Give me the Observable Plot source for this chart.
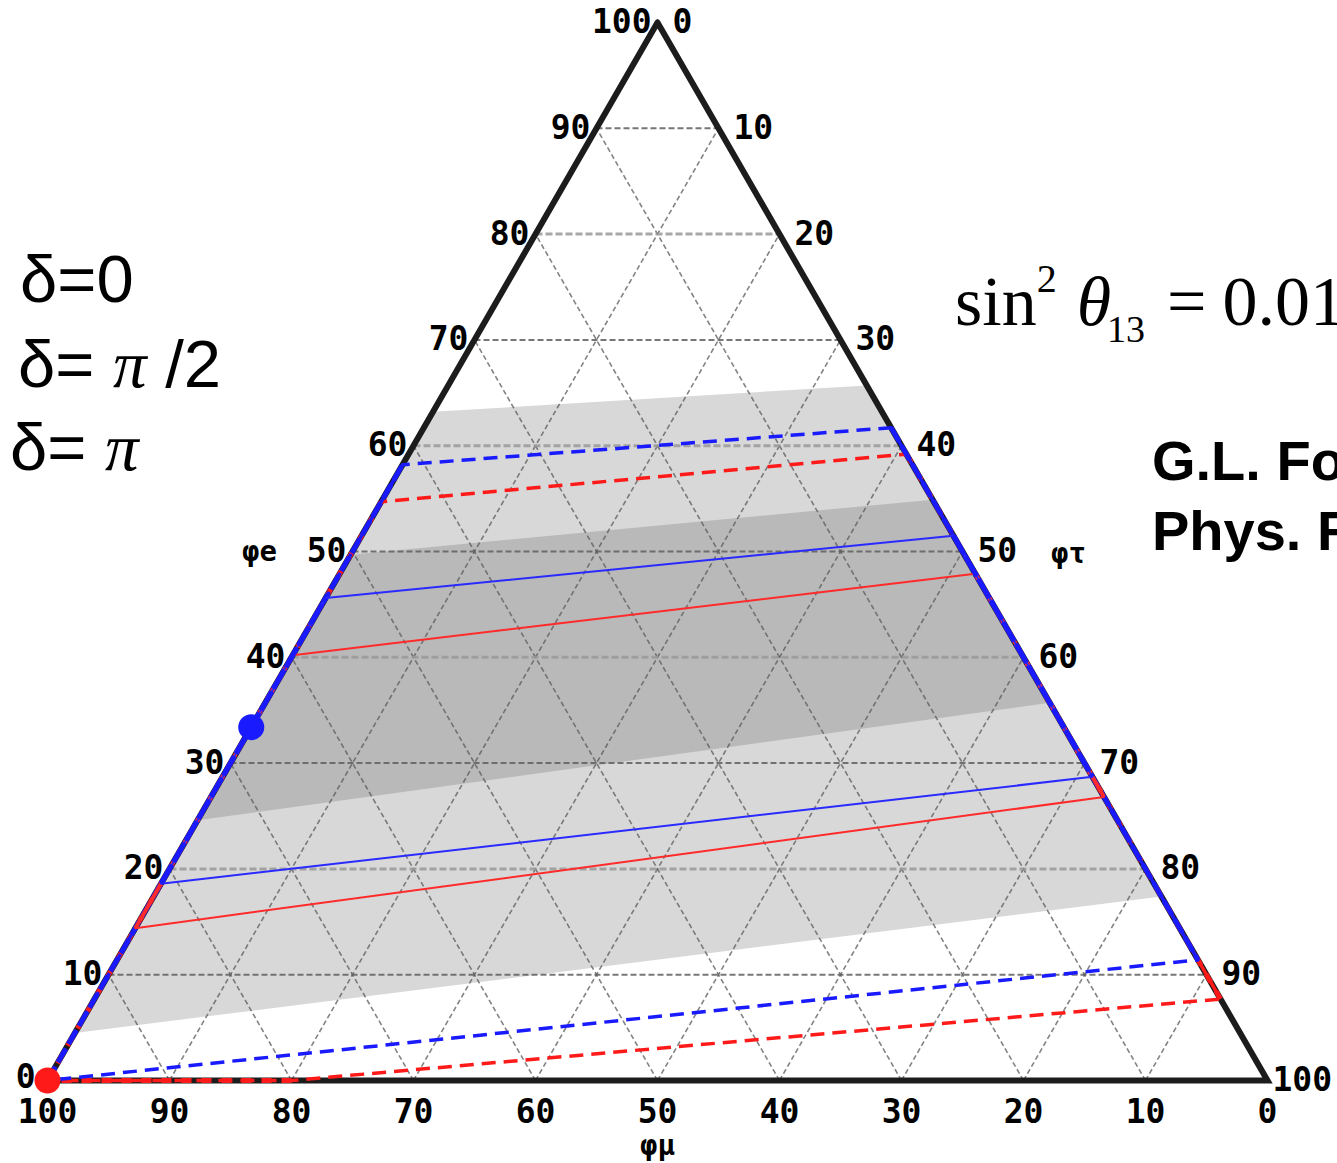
<!DOCTYPE html>
<html>
<head>
<meta charset="utf-8">
<script src="https://cdn.jsdelivr.net/npm/d3@7"></script>
<script src="https://cdn.jsdelivr.net/npm/@observablehq/plot@0.6"></script>
<style>
  html, body { margin: 0; padding: 0; background: #fff; overflow: hidden; }
  #wrap { position: relative; width: 1337px; height: 1163px; overflow: hidden; }
  #chart svg { display: block; }
  #notes { position: absolute; left: 0; top: 0; pointer-events: none; }
</style>
</head>
<body>
<div id="wrap">
  <div id="chart"></div>
  <svg id="notes" width="1337" height="1163" xmlns="http://www.w3.org/2000/svg">
    <g font-family="'Liberation Sans', Arial, sans-serif" font-size="67" fill="#000">
      <text x="20" y="302">δ=0</text>
      <text x="18" y="387" style="white-space:pre">δ= <tspan font-family="'Liberation Serif', 'Times New Roman', serif" font-style="italic">π</tspan> /2</text>
      <text x="10" y="470" style="white-space:pre">δ= <tspan font-family="'Liberation Serif', 'Times New Roman', serif" font-style="italic">π</tspan></text>
    </g>
    <text x="955" y="325" font-family="'Liberation Serif', 'Times New Roman', serif" font-size="70" fill="#000">sin<tspan dy="-33" font-size="40">2</tspan><tspan dx="20" dy="33" font-style="italic">θ</tspan><tspan dx="-4" dy="17" font-size="38">13</tspan><tspan dx="22" dy="-17">=</tspan><tspan dx="16">0.01</tspan></text>
    <g font-family="'Liberation Sans', Arial, sans-serif" font-size="56" font-weight="bold" fill="#000">
      <text x="1152" y="480">G.L. Fo</text>
      <text x="1152" y="550">Phys. R</text>
    </g>
  </svg>
</div>
<script>
// ---- data (ternary coordinates: [φe, φμ, φτ], in %) ----
const tickValues = [0, 10, 20, 30, 40, 50, 60, 70, 80, 90, 100];
const gridValues = [10, 20, 30, 40, 50, 60, 70, 80, 90];

// shaded allowed bands
const lightBand = [[4.5, 95.5, 0], [63.2, 36.8, 0], [65.7, 0, 34.3], [17.4, 0, 82.6]];
const darkBand  = [[24.6, 75.4, 0], [49.7, 50.3, 0], [54.9, 0, 45.1], [35.7, 0, 64.3]];

// contours (dashed = wide range, solid = narrow range)
const blueDashed = [[0, 100, 0], [58.2, 41.8, 0], [61.7, 0, 38.3], [11.4, 0, 88.6], [0, 100, 0]];
const redDashed  = [[0, 100, 0], [54.7, 45.3, 0], [59.2, 0, 40.8], [7.7, 0, 92.3], [0, 80, 20], [0, 100, 0]];
const blueSolid  = [[18.6, 81.4, 0], [45.6, 54.4, 0], [51.5, 0, 48.5], [28.7, 0, 71.3], [18.6, 81.4, 0]];
const redSolid   = [[14.4, 85.6, 0], [40.2, 59.8, 0], [47.9, 0, 52.1], [26.8, 0, 73.2], [14.4, 85.6, 0]];

// source points
const sourceNames  = ["(0:1:0)", "(1:2:0)"];
const sourcePoints = [[0, 100, 0], [33.4, 66.6, 0]];
const sourceColors = ["#ff1a1a", "#1a1aff"];

// ---- ternary projection ----
const S3 = Math.sqrt(3) / 2;
const toXY = ([e, mu, tau]) => ({x: tau + e / 2, y: e * S3});
const path = (pts) => pts.map(toXY);

// grid lines: constant φe (horizontal), constant φτ, constant φμ
const grid = [];
for (const v of gridValues) {
  const a1 = toXY([v, 100 - v, 0]), a2 = toXY([v, 0, 100 - v]);
  grid.push({x1: a1.x, y1: a1.y, x2: a2.x, y2: a2.y, kind: v % 20 === 0 ? "even" : "odd"});
  const b1 = toXY([0, 100 - v, v]), b2 = toXY([100 - v, 0, v]);
  grid.push({x1: b1.x, y1: b1.y, x2: b2.x, y2: b2.y, kind: "diag"});
  const c1 = toXY([0, v, 100 - v]), c2 = toXY([100 - v, v, 0]);
  grid.push({x1: c1.x, y1: c1.y, x2: c2.x, y2: c2.y, kind: "diag"});
}
const frame = path([[100, 0, 0], [0, 100, 0], [0, 0, 100], [100, 0, 0]]);

// segments of a contour lying on the triangle sides
function edgeSegments(pts) {
  const segs = [];
  for (let i = 0; i < pts.length - 1; i++) {
    const p = pts[i], q = pts[i + 1];
    for (let k = 0; k < 3; k++) {
      if (p[k] === 0 && q[k] === 0) {
        const a = toXY(p), b = toXY(q);
        segs.push({x1: a.x, y1: a.y, x2: b.x, y2: b.y});
        break;
      }
    }
  }
  return segs;
}

const tickFont = {fontFamily: "'DejaVu Sans Mono', monospace", fontWeight: "bold", fontSize: 33, fill: "#000"};
const leftTicks = tickValues.map(v => ({...toXY([v, 100 - v, 0]), t: String(v), v}));
const rightTicks = tickValues.map(v => ({...toXY([100 - v, 0, v]), t: String(v), v}));
const bottomTicks = tickValues.map(v => ({...toXY([0, v, 100 - v]), t: String(v), v}));
const axisTitles = [
  {...toXY([50, 50, 0]), t: "φe"},
  {...toXY([50, 0, 50]), t: "φτ"},
  {...toXY([0, 50, 50]), t: "φμ"}
];

const dashed = {strokeWidth: 3.5, strokeDasharray: "14,8", strokeLinecap: "butt"};
const L = {x1: "x1", y1: "y1", x2: "x2", y2: "y2"};

const chart = Plot.plot({
  width: 1337,
  height: 1163,
  marginLeft: 47,
  marginRight: 70,
  marginTop: 22,
  marginBottom: 83,
  x: {domain: [0, 100], axis: null},
  y: {domain: [0, 100 * S3], axis: null},
  style: {background: "#fff"},
  marks: [
    Plot.line(path(lightBand), {x: "x", y: "y", fill: "#d8d8d8", stroke: "none"}),
    Plot.line(path(darkBand), {x: "x", y: "y", fill: "#b9b9b9", stroke: "none"}),
    Plot.link(grid.filter(d => d.kind === "diag"), {...L, stroke: "#5a5a5a", strokeOpacity: 0.75, strokeWidth: 1.6, strokeDasharray: "5,3"}),
    Plot.link(grid.filter(d => d.kind === "odd"), {...L, stroke: "#5f5f5f", strokeOpacity: 0.85, strokeWidth: 2, strokeDasharray: "6,3"}),
    Plot.link(grid.filter(d => d.kind === "even"), {...L, stroke: "#999", strokeOpacity: 0.85, strokeWidth: 3, strokeDasharray: "7,3"}),
    Plot.line(frame, {x: "x", y: "y", stroke: "#1c1c1c", strokeWidth: 6, strokeLinejoin: "miter", strokeMiterlimit: 10}),
    // red (δ=π) wide contour
    Plot.line(path(redDashed), {x: "x", y: "y", stroke: "#ff1a1a", ...dashed}),
    Plot.link(edgeSegments(redDashed), {...L, stroke: "#ff1a1a", strokeWidth: 5, strokeDasharray: "10,10", strokeLinecap: "butt"}),
    // blue (δ=0) wide contour
    Plot.line(path(blueDashed), {x: "x", y: "y", stroke: "#1a1aff", ...dashed}),
    Plot.link(edgeSegments(blueDashed), {...L, stroke: "#1a1aff", strokeWidth: 5, strokeDasharray: "16,5", strokeLinecap: "butt"}),
    // narrow contours
    Plot.line(path(redSolid), {x: "x", y: "y", stroke: "#ff2a2a", strokeWidth: 2}),
    Plot.link(edgeSegments(redSolid), {...L, stroke: "#ff2a2a", strokeWidth: 4}),
    Plot.line(path(blueSolid), {x: "x", y: "y", stroke: "#2a2aff", strokeWidth: 2}),
    Plot.link(edgeSegments(blueSolid), {...L, stroke: "#1a1aff", strokeWidth: 5, strokeDasharray: "22,3", strokeLinecap: "butt"}),
    Plot.dot(sourcePoints.map((p, i) => ({...toXY(p), name: sourceNames[i], c: sourceColors[i]})), {x: "x", y: "y", r: 13, fill: "c", stroke: "none"}),
    // φe axis labels (left side)
    Plot.text(leftTicks.filter(d => d.v > 0), {x: "x", y: "y", text: "t", textAnchor: "end", dx: -6, ...tickFont}),
    Plot.text(leftTicks.filter(d => d.v === 0), {x: "x", y: "y", text: "t", textAnchor: "end", dx: -12, dy: -3, ...tickFont}),
    // φτ axis labels (right side)
    Plot.text(rightTicks.filter(d => d.v < 100), {x: "x", y: "y", text: "t", textAnchor: "start", dx: 15, ...tickFont}),
    Plot.text(rightTicks.filter(d => d.v === 100), {x: "x", y: "y", text: "t", textAnchor: "start", dx: 5, ...tickFont}),
    // φμ axis labels (bottom)
    Plot.text(bottomTicks, {x: "x", y: "y", text: "t", textAnchor: "middle", dy: 32, ...tickFont}),
    Plot.text(axisTitles.slice(0, 1), {x: "x", y: "y", text: "t", dx: -93, ...tickFont, fontSize: 29}),
    Plot.text(axisTitles.slice(1, 2), {x: "x", y: "y", text: "t", dx: 106, dy: 2, ...tickFont, fontSize: 29}),
    Plot.text(axisTitles.slice(2, 3), {x: "x", y: "y", text: "t", dy: 65, ...tickFont, fontSize: 29})
  ]
});
document.getElementById("chart").appendChild(chart);
</script>
</body>
</html>
